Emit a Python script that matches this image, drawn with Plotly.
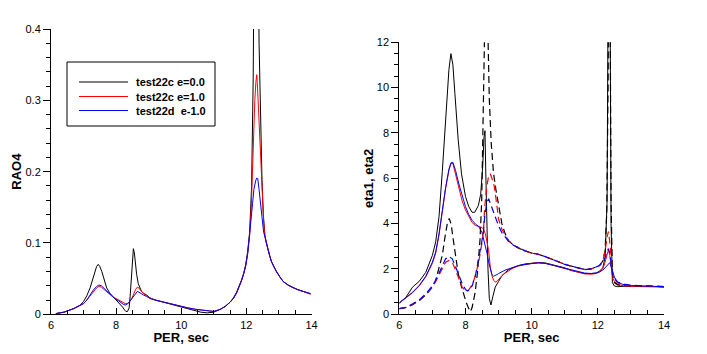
import plotly.graph_objects as go

# ---------------- Left panel: RAO4 ----------------
rao_x_black = [6.15, 6.4, 6.7, 6.9, 7.0, 7.1, 7.2, 7.3, 7.35, 7.4, 7.45, 7.5, 7.56, 7.63, 7.71,
               7.8, 7.9, 8.0, 8.1, 8.2, 8.26, 8.3, 8.35, 8.4, 8.43, 8.46, 8.5, 8.53, 8.56, 8.59,
               8.63, 8.68, 8.73, 8.78, 8.86, 8.94, 9.04, 9.2, 9.45, 9.7, 9.93, 10.2, 10.44, 10.6,
               10.8, 10.9, 11.0, 11.2, 11.35, 11.5, 11.6, 11.7, 11.78, 11.85, 11.92, 11.98, 12.04,
               12.1, 12.16, 12.21, 12.25, 12.3, 12.35, 12.39, 12.43, 12.48, 12.52, 12.57, 12.62,
               12.67, 12.72, 12.77, 12.85, 12.92, 13.02, 13.13, 13.28, 13.44, 13.6, 13.75, 13.88, 13.97]
rao_black = [0.001, 0.003, 0.008, 0.013, 0.018, 0.026, 0.037, 0.052, 0.060, 0.067, 0.070, 0.067,
             0.060, 0.048, 0.037, 0.030, 0.025, 0.021, 0.016, 0.010, 0.006, 0.004, 0.004, 0.009,
             0.025, 0.048, 0.078, 0.092, 0.086, 0.072, 0.056, 0.043, 0.036, 0.032, 0.029, 0.027,
             0.023, 0.020, 0.017, 0.014, 0.011, 0.008, 0.005, 0.003, 0.002, 0.002, 0.003, 0.007,
             0.011, 0.017, 0.023, 0.031, 0.039, 0.048, 0.058, 0.070, 0.088, 0.115, 0.179, 0.333,
             0.60, 0.75, 0.60, 0.38, 0.28, 0.188, 0.14, 0.11, 0.098, 0.089, 0.081, 0.074, 0.066,
             0.060, 0.053, 0.046, 0.041, 0.037, 0.034, 0.032, 0.030, 0.029]

rao_x = [6.15, 6.4, 6.7, 6.9, 7.0, 7.1, 7.2, 7.3, 7.4, 7.47, 7.55, 7.65, 7.75, 7.86, 7.96, 8.07,
         8.15, 8.22, 8.28, 8.34, 8.4, 8.48, 8.55, 8.6, 8.65, 8.7, 8.76, 8.84, 8.94, 9.04, 9.2,
         9.45, 9.7, 9.93, 10.2, 10.44, 10.6, 10.8, 10.9, 11.0, 11.2, 11.35, 11.5, 11.6, 11.7,
         11.78, 11.85, 11.92, 11.98, 12.04, 12.1, 12.15, 12.19, 12.23, 12.26, 12.29, 12.32,
         12.35, 12.39, 12.43, 12.46, 12.5, 12.53, 12.57, 12.62, 12.67, 12.72, 12.77, 12.85,
         12.92, 13.02, 13.13, 13.28, 13.44, 13.6, 13.75, 13.88, 13.97]
rao_red = [0.001, 0.003, 0.008, 0.012, 0.015, 0.020, 0.026, 0.032, 0.037, 0.039, 0.038, 0.034,
           0.030, 0.026, 0.023, 0.020, 0.018, 0.016, 0.015, 0.015, 0.017, 0.022, 0.030, 0.035,
           0.038, 0.037, 0.033, 0.029, 0.026, 0.023, 0.020, 0.017, 0.015, 0.012, 0.009, 0.007,
           0.006, 0.005, 0.004, 0.004, 0.007, 0.011, 0.017, 0.022, 0.030, 0.038, 0.047, 0.057,
           0.068, 0.085, 0.110, 0.150, 0.217, 0.270, 0.300, 0.325, 0.336, 0.310, 0.273, 0.220,
           0.193, 0.150, 0.130, 0.109, 0.098, 0.089, 0.081, 0.074, 0.066, 0.060, 0.053, 0.046,
           0.041, 0.037, 0.034, 0.032, 0.030, 0.028]
rao_blue = [0.001, 0.003, 0.008, 0.012, 0.015, 0.020, 0.027, 0.034, 0.039, 0.041, 0.040, 0.036,
            0.031, 0.026, 0.022, 0.019, 0.016, 0.014, 0.013, 0.014, 0.017, 0.022, 0.027, 0.030,
            0.032, 0.031, 0.029, 0.027, 0.025, 0.022, 0.020, 0.017, 0.015, 0.012, 0.009, 0.007,
            0.006, 0.005, 0.004, 0.004, 0.007, 0.011, 0.017, 0.022, 0.030, 0.038, 0.047, 0.057,
            0.068, 0.085, 0.110, 0.130, 0.155, 0.175, 0.185, 0.188, 0.191, 0.190, 0.175, 0.155,
            0.140, 0.125, 0.115, 0.109, 0.098, 0.089, 0.081, 0.074, 0.066, 0.060, 0.053, 0.046,
            0.041, 0.037, 0.034, 0.032, 0.030, 0.029]

# ---------------- Right panel: eta1 (solid) / eta2 (dashed) ----------------
eta1_x_black = [6.0, 6.2, 6.4, 6.6, 6.8, 7.0, 7.1, 7.2, 7.3, 7.35, 7.43, 7.5, 7.56, 7.62, 7.68,
                7.78, 7.88, 8.0, 8.1, 8.2, 8.28, 8.39, 8.46, 8.52, 8.56, 8.59, 8.61, 8.64, 8.68,
                8.72, 8.77, 8.83, 8.9, 9.0, 9.1, 9.3, 9.6, 9.8, 10.0, 10.2, 10.4, 10.6, 10.8, 11.0,
                11.2, 11.4, 11.6, 11.8, 11.95, 12.05, 12.15, 12.22, 12.28, 12.31, 12.34, 12.37,
                12.40, 12.44, 12.5, 12.6, 12.8, 13.0, 13.5, 14.0]
eta1_black = [0.5, 0.75, 1.2, 1.45, 1.85, 2.6, 3.2, 4.3, 6.3, 7.4, 9.2, 10.8, 11.5, 11.0, 9.75,
              7.7, 6.2, 5.2, 4.75, 4.5, 4.5, 4.8, 5.3, 6.5, 7.8, 8.1, 6.5, 4.0, 2.0, 0.7, 0.41,
              0.8, 1.2, 1.45, 1.7, 1.97, 2.15, 2.22, 2.26, 2.28, 2.27, 2.2, 2.1, 2.05, 1.93, 1.87,
              1.8, 1.8, 1.82, 1.9, 2.05, 2.5, 5.0, 14.0, 20.0, 14.0, 4.0, 1.4, 1.25, 1.22, 1.25,
              1.25, 1.23, 1.22]

eta_x = [6.0, 6.2, 6.4, 6.6, 6.8, 7.0, 7.1, 7.2, 7.3, 7.4, 7.5, 7.56, 7.62, 7.7, 7.8, 7.9, 8.0,
         8.1, 8.2, 8.3, 8.4, 8.5, 8.55, 8.6, 8.65, 8.7, 8.75, 8.8, 8.85, 8.9, 8.95, 9.0, 9.1, 9.2,
         9.3, 9.45, 9.6, 9.8, 10.0, 10.2, 10.4, 10.6, 10.8, 11.0, 11.2, 11.4, 11.6, 11.8, 11.95,
         12.05, 12.15, 12.22, 12.28, 12.32, 12.36, 12.4, 12.45, 12.5, 12.55, 12.6, 12.7, 12.8,
         13.0, 13.2, 13.5, 14.0]
eta1_red = [0.5, 0.72, 0.95, 1.25, 1.65, 2.25, 2.7, 3.5, 4.6, 5.55, 6.35, 6.65, 6.65, 6.2, 5.55,
            5.0, 4.6, 4.3, 4.05, 3.92, 3.87, 3.83, 3.75, 3.55, 3.2, 2.8, 2.1, 1.7, 1.5, 1.42,
            1.45, 1.55, 1.7, 1.82, 1.92, 2.05, 2.13, 2.2, 2.25, 2.27, 2.25, 2.18, 2.1, 2.03,
            1.93, 1.85, 1.78, 1.77, 1.8, 1.87, 2.0, 2.3, 2.7, 2.84, 2.6, 2.1, 1.6, 1.45, 1.38,
            1.32, 1.28, 1.25, 1.23, 1.22, 1.22, 1.2]
eta1_blue = [0.5, 0.72, 0.97, 1.27, 1.68, 2.3, 2.75, 3.55, 4.65, 5.6, 6.4, 6.68, 6.7, 6.35, 5.75,
             5.2, 4.75, 4.4, 4.15, 3.98, 3.88, 3.6, 3.3, 3.1, 2.7, 2.3, 2.0, 1.75, 1.68, 1.7,
             1.75, 1.8, 1.88, 1.95, 2.0, 2.08, 2.15, 2.2, 2.25, 2.27, 2.25, 2.18, 2.1, 2.03,
             1.95, 1.87, 1.82, 1.8, 1.82, 1.87, 1.95, 2.05, 2.15, 2.25, 2.28, 2.1, 1.85, 1.65,
             1.5, 1.42, 1.35, 1.3, 1.27, 1.25, 1.24, 1.22]

eta2_x_black = [6.0, 6.2, 6.4, 6.6, 6.8, 7.0, 7.1, 7.2, 7.3, 7.38, 7.45, 7.51, 7.57, 7.63, 7.7,
                7.78, 7.88, 7.96, 8.03, 8.1, 8.15, 8.2, 8.29, 8.36, 8.44, 8.49, 8.53, 8.57, 8.62,
                8.67, 8.72, 8.78, 8.85, 8.92, 9.0, 9.1, 9.2, 9.3, 9.45, 9.6, 9.8, 10.0, 10.2, 10.4,
                10.6, 10.8, 11.0, 11.2, 11.4, 11.6, 11.8, 11.95, 12.05, 12.15, 12.22, 12.27,
                12.31, 12.34, 12.37, 12.40, 12.44, 12.5, 12.6, 12.8, 13.0, 13.5, 14.0]
eta2_black = [0.25, 0.3, 0.42, 0.6, 0.85, 1.2, 1.5, 2.0, 2.6, 3.4, 4.0, 4.23, 3.95, 3.3, 2.5,
              1.8, 1.2, 0.8, 0.5, 0.25, 0.12, 0.3, 0.95, 1.8, 3.3, 5.0, 8.0, 12.5, 16.0, 13.0,
              9.5, 7.5, 6.2, 5.5, 4.8, 4.0, 3.55, 3.25, 3.05, 2.92, 2.8, 2.7, 2.65, 2.55, 2.45,
              2.33, 2.2, 2.13, 2.05, 1.98, 2.0, 2.07, 2.15, 2.35, 2.8, 4.5, 10.0, 18.0, 14.0, 5.0,
              1.8, 1.4, 1.3, 1.27, 1.25, 1.24, 1.22]

eta2_x = [6.0, 6.2, 6.4, 6.6, 6.8, 7.0, 7.1, 7.2, 7.3, 7.4, 7.5, 7.6, 7.7, 7.8, 7.9, 8.0, 8.05,
          8.1, 8.2, 8.3, 8.4, 8.48, 8.54, 8.58, 8.64, 8.7, 8.75, 8.8, 8.87, 8.95, 9.0, 9.1, 9.2,
          9.3, 9.45, 9.6, 9.8, 10.0, 10.2, 10.4, 10.6, 10.8, 11.0, 11.2, 11.4, 11.6, 11.8, 11.95,
          12.05, 12.15, 12.22, 12.28, 12.32, 12.36, 12.4, 12.45, 12.5, 12.6, 12.8, 13.0, 13.5, 14.0]
eta2_red = [0.25, 0.3, 0.45, 0.62, 0.88, 1.22, 1.45, 1.75, 2.05, 2.3, 2.38, 2.3, 1.95, 1.55, 1.2,
            1.03, 1.02, 1.08, 1.3, 1.7, 2.3, 3.0, 3.6, 4.7, 5.6, 6.1, 6.2, 6.0, 5.65, 4.8, 4.2,
            3.75, 3.5, 3.25, 3.05, 2.93, 2.8, 2.7, 2.65, 2.55, 2.45, 2.32, 2.2, 2.12, 2.04, 1.97,
            2.0, 2.07, 2.15, 2.35, 2.8, 3.4, 3.65, 3.2, 2.5, 1.8, 1.55, 1.38, 1.3, 1.27, 1.24, 1.22]
eta2_blue = [0.25, 0.3, 0.45, 0.63, 0.9, 1.25, 1.5, 1.8, 2.15, 2.45, 2.55, 2.45, 2.1, 1.7, 1.35,
             1.1, 1.03, 1.05, 1.25, 1.7, 2.4, 3.1, 3.6, 4.3, 4.9, 5.1, 4.9, 4.7, 4.35, 4.1, 3.9,
             3.6, 3.4, 3.22, 3.05, 2.93, 2.8, 2.7, 2.65, 2.55, 2.45, 2.32, 2.2, 2.12, 2.04, 1.97,
             2.0, 2.07, 2.15, 2.3, 2.5, 2.75, 2.9, 2.7, 2.3, 1.8, 1.6, 1.42, 1.33, 1.28, 1.25, 1.22]

legend_names = ["test22c e=0.0", "test22c e=1.0", "test22d\u00a0 e-1.0"]
colors = ["#000000", "#ff0000", "#0000ff"]

FONT = "Liberation Sans, Arial, sans-serif"
W, H = 707, 354

fig = go.Figure()

rao_sets = [(rao_x_black, rao_black), (rao_x, rao_red), (rao_x, rao_blue)]
for (xs, ys), name, c in zip(rao_sets, legend_names, colors):
    fig.add_trace(go.Scatter(x=xs, y=ys, mode="lines", name=name, showlegend=False,
                             line=dict(color=c, width=1), xaxis="x", yaxis="y"))

eta1_sets = [(eta1_x_black, eta1_black), (eta_x, eta1_red), (eta_x, eta1_blue)]
eta2_sets = [(eta2_x_black, eta2_black), (eta2_x, eta2_red), (eta2_x, eta2_blue)]
for (xs, ys), name, c in zip(eta1_sets, legend_names, colors):
    fig.add_trace(go.Scatter(x=xs, y=ys, mode="lines", name=name + " eta1", showlegend=False,
                             line=dict(color=c, width=1), xaxis="x2", yaxis="y2"))
for (xs, ys), name, c in zip(eta2_sets, legend_names, colors):
    fig.add_trace(go.Scatter(x=xs, y=ys, mode="lines", name=name + " eta2", showlegend=False,
                             line=dict(color=c, width=1.2, dash="7px,4px"),
                             xaxis="x2", yaxis="y2"))

tickfont = dict(family=FONT, size=11, color="black")
titlefont = dict(family=FONT, size=13, color="black", weight="bold")

def xax(domain, anchor):
    return dict(domain=domain, anchor=anchor, range=[6, 14], dtick=2, tick0=6,
                automargin=False,
                showline=True, linecolor="black", linewidth=1, mirror=False,
                ticks="inside", ticklen=6, tickcolor="black", tickwidth=1,
                minor=dict(dtick=0.5, ticks="inside", ticklen=4, tickcolor="black"),
                showgrid=False, zeroline=False, tickfont=tickfont,
                title=dict(text="PER, sec", font=titlefont, standoff=0))

def yax(domain, anchor, rng, dt, mdt, title):
    return dict(domain=domain, anchor=anchor, range=rng, dtick=dt, tick0=0,
                automargin=False,
                showline=True, linecolor="black", linewidth=1, mirror=False,
                ticks="outside", ticklen=7, tickcolor="black", tickwidth=1,
                minor=dict(dtick=mdt, ticks="outside", ticklen=4, tickcolor="black"),
                showgrid=False, zeroline=False, tickfont=tickfont,
                title=dict(text=title, font=titlefont, standoff=0))

def px_x(p):
    return p / W

def px_y(p):
    return 1 - p / H

# Legend box
shapes = [dict(type="rect", xref="paper", yref="paper",
               x0=px_x(67), x1=px_x(215), y0=px_y(126), y1=px_y(62),
               line=dict(color="black", width=1), fillcolor="white", layer="above")]
annotations = []
legend_rows = [82, 96.5, 110.5]
for row, name, c in zip(legend_rows, legend_names, colors):
    shapes.append(dict(type="line", xref="paper", yref="paper",
                       x0=px_x(79), x1=px_x(128), y0=px_y(row), y1=px_y(row),
                       line=dict(color=c, width=1), layer="above"))
    annotations.append(dict(xref="paper", yref="paper", x=px_x(134), y=px_y(row),
                            xanchor="left", yanchor="middle", showarrow=False, text=name,
                            font=dict(family=FONT, size=11, color="black", weight="bold")))

ybot = (H - 314.3) / H
fig.update_layout(
    template="none",
    width=W, height=H,
    margin=dict(l=0, r=0, t=0, b=0, autoexpand=False),
    paper_bgcolor="white", plot_bgcolor="white",
    xaxis=xax([51 / W, 311.5 / W], "y"),
    yaxis=yax([ybot, (H - 29) / H], "x", [0, 0.4], 0.1, 0.02, "RAO4"),
    xaxis2=xax([399.3 / W, 664 / W], "y2"),
    yaxis2=yax([ybot, (H - 42.3) / H], "x2", [0, 12], 2, 0.5, "eta1, eta2"),
    showlegend=False,
    shapes=shapes,
    annotations=annotations,
)

fig.write_html("out.html")
